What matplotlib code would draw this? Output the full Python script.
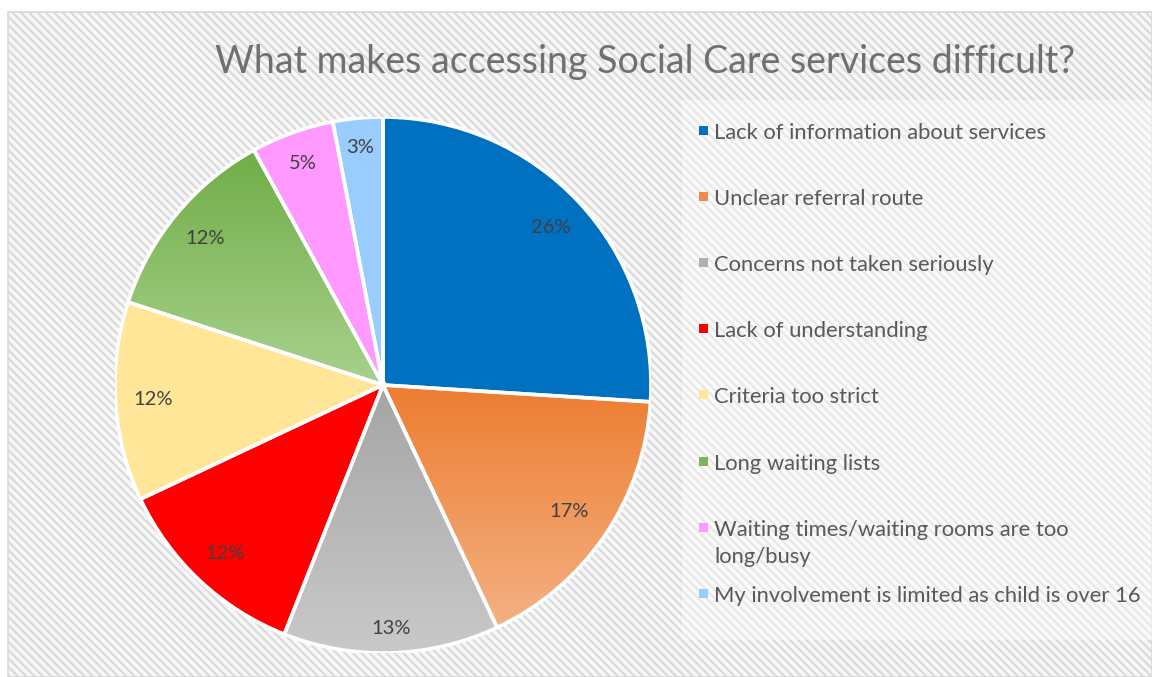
import numpy as np
import matplotlib
matplotlib.use("Agg")
import matplotlib.pyplot as plt
from matplotlib.patches import Rectangle, Wedge
from matplotlib.colors import LinearSegmentedColormap

plt.rcParams['font.family'] = ['Lato', 'DejaVu Sans']
plt.rcParams['hatch.linewidth'] = 1.6

title = "What makes accessing Social Care services difficult?"
categories = [
    "Lack of information about services",
    "Unclear referral route",
    "Concerns not taken seriously",
    "Lack of understanding",
    "Criteria too strict",
    "Long waiting lists",
    "Waiting times/waiting rooms are too\nlong/busy",
    "My involvement is limited as child is over 16",
]
percent = [26, 17, 13, 12, 12, 12, 5, 3]

# (top colour, bottom colour) for each slice's vertical gradient
fills = [
    ("#0070C0", "#0070C0"),
    ("#ED7D31", "#F4B183"),
    ("#A5A5A5", "#C9C9C9"),
    ("#FF0000", "#FF0000"),
    ("#FFE699", "#FFE699"),
    ("#70AD47", "#A9D18E"),
    ("#FF99FF", "#FF99FF"),
    ("#99CCFF", "#99CCFF"),
]
key_colors = ["#0070C0", "#F08A4B", "#B0B0B0", "#FF0000",
              "#FFE699", "#7DB55A", "#FF99FF", "#99CCFF"]
label_dist = [0.86, 0.84, 0.91, 0.86, 0.86, 0.86, 0.88, 0.89]

W, H = 1152, 677
fig = plt.figure(figsize=(W / 100, H / 100), dpi=100)
fig.patch.set_facecolor("white")

# chart area: hatched panel with thin grey border
x0, top = 8 / W, 1 - 12 / H
fig.patches.append(Rectangle((x0, 0), 1 - x0, top, transform=fig.transFigure,
                             facecolor="#F7F7F7", edgecolor="#DADADA", lw=0,
                             hatch="\\\\\\\\", zorder=-3))
fig.patches.append(Rectangle((x0, 0), 1 - x0, top, transform=fig.transFigure,
                             facecolor="none", edgecolor="#D9D9D9", lw=1.2,
                             zorder=-2))
# legend panel
fig.patches.append(Rectangle((682 / W, 1 - 640 / H), 1 - 682 / W, 540 / H,
                             transform=fig.transFigure, facecolor="white",
                             alpha=0.4, lw=0, zorder=-1))

fig.text(645 / W, 1 - 62 / H, title, ha="center", va="center",
         fontsize=27, color="#707070")

cx, cy, r = 383, 385, 268
ax = fig.add_axes([(cx - r) / W, 1 - (cy + r) / H, 2 * r / W, 2 * r / H])
ax.set_axis_off()
ax.set_zorder(1)

wedges, _ = ax.pie(percent, startangle=90, counterclock=False,
                   colors=[f[0] for f in fills],
                   wedgeprops=dict(linewidth=0))

for w, (c_top, c_bot) in zip(wedges, fills):
    if c_top != c_bot:
        ext = w.get_path().get_extents()
        cmap = LinearSegmentedColormap.from_list("g", [c_top, c_bot])
        grad = np.linspace(0, 1, 256).reshape(-1, 1)
        im = ax.imshow(grad, cmap=cmap, extent=(ext.x0, ext.x1, ext.y0, ext.y1),
                       origin="upper", aspect="auto", zorder=w.get_zorder() + 0.1)
        im.set_clip_path(w)
    ax.add_patch(Wedge(w.center, w.r, w.theta1, w.theta2, facecolor="none",
                       edgecolor="white", linewidth=2.6, zorder=3))

for w, v, d in zip(wedges, percent, label_dist):
    mid = np.deg2rad((w.theta1 + w.theta2) / 2)
    ax.text(d * np.cos(mid), d * np.sin(mid), f"{v}%", ha="center", va="center",
            fontsize=14.5, color="#404040", zorder=4)

ax.set_aspect("equal")
ax.set_xlim(-1, 1)
ax.set_ylim(-1, 1)

# legend entries
for i, (name, col) in enumerate(zip(categories, key_colors)):
    y = 131 + 66.1 * i
    fig.patches.append(Rectangle((699 / W, 1 - (y + 4) / H), 9 / W, 9 / H,
                                 transform=fig.transFigure, facecolor=col,
                                 lw=0, zorder=2))
    fig.text(714 / W, 1 - (y - 8) / H, name, ha="left", va="top",
             fontsize=15.8, color="#595959", linespacing=1.45)

fig.savefig("out.png", dpi=100)
